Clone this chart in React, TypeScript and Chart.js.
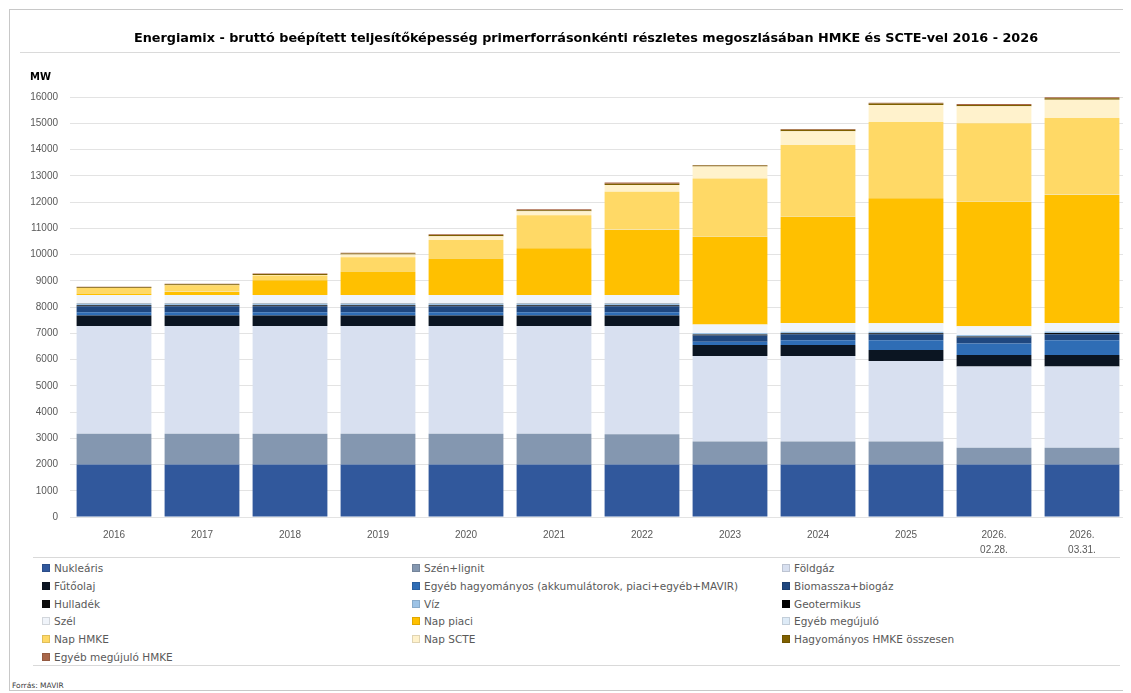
import { useEffect, useRef } from "react";
import { Chart, registerables } from "chart.js";

Chart.register(...registerables);

const chartTitle =
  "Energiamix - bruttó beépített teljesítőképesség primerforrásonkénti részletes megoszlásában HMKE és SCTE-vel 2016 - 2026";
const unitLabel = "MW";
const sourceNote = "Forrás: MAVIR";

const categories: (string | string[])[] = [
  "2016", "2017", "2018", "2019", "2020", "2021", "2022", "2023", "2024", "2025",
  ["2026.", "02.28."], ["2026.", "03.31."],
];

const yTicks = { min: 0, max: 16000, step: 1000 };

// series values (MW), bottom of the stack first
const nuklearis = [2000, 2000, 2000, 2000, 2000, 2000, 2000, 2000, 2000, 2000, 2000, 2000];
const szenLignit = [1170, 1170, 1170, 1170, 1170, 1170, 1150, 880, 880, 880, 640, 640];
const foldgaz = [4110, 4110, 4110, 4110, 4110, 4110, 4130, 3250, 3250, 3060, 3090, 3090];
const futoolaj = [400, 400, 400, 400, 400, 400, 400, 420, 420, 420, 445, 445];
const egyebHagyomanyos = [120, 120, 120, 120, 120, 120, 120, 130, 180, 370, 430, 560];
const biomassza = [230, 230, 230, 230, 230, 230, 230, 230, 230, 230, 230, 230];
const hulladek = [40, 40, 40, 40, 40, 40, 40, 40, 40, 40, 40, 40];
const viz = [57, 57, 57, 57, 57, 57, 57, 57, 57, 57, 57, 57];
const geotermikus = [3, 3, 3, 3, 3, 3, 3, 3, 3, 3, 3, 3];
const szel = [330, 330, 330, 330, 330, 330, 330, 320, 330, 320, 330, 330];
const napPiaci = [50, 110, 560, 890, 1390, 1780, 2470, 3350, 4050, 4760, 4745, 4875];
const egyebMegujulo = [10, 10, 10, 10, 10, 10, 10, 10, 10, 10, 10, 10];
const napHMKE = [200, 250, 170, 540, 690, 1250, 1450, 2210, 2720, 2900, 2980, 2920];
const napSCTE = [0, 0, 20, 100, 150, 150, 260, 450, 530, 650, 650, 700];
const hagyomanyosHMKE = [30, 35, 35, 40, 40, 40, 50, 40, 50, 50, 50, 55];
const egyebMegujuloHMKE = [20, 25, 25, 30, 30, 30, 40, 20, 30, 30, 30, 35];

const seriesNames = [
  "Nukleáris", "Szén+lignit", "Földgáz",
  "Fűtőolaj", "Egyéb hagyományos (akkumulátorok, piaci+egyéb+MAVIR)", "Biomassza+biogáz",
  "Hulladék", "Víz", "Geotermikus",
  "Szél", "Nap piaci", "Egyéb megújuló",
  "Nap HMKE", "Nap SCTE", "Hagyományos HMKE összesen",
  "Egyéb megújuló HMKE",
];
const seriesValues = [
  nuklearis, szenLignit, foldgaz,
  futoolaj, egyebHagyomanyos, biomassza,
  hulladek, viz, geotermikus,
  szel, napPiaci, egyebMegujulo,
  napHMKE, napSCTE, hagyomanyosHMKE,
  egyebMegujuloHMKE,
];
const seriesColors = [
  "#31589C", "#8497B0", "#D8E0F0",
  "#0B1522", "#2F6DB5", "#1F477F",
  "#0D0D0D", "#9DC3E6", "#000000",
  "#F0F4FA", "#FFC000", "#DEEBF7",
  "#FFD966", "#FFF2CC", "#7F6000",
  "#A9674A",
];

const FONT_TEXT = "'DejaVu Sans', sans-serif";
const FONT_TICK = "'Liberation Sans', Arial, sans-serif";

export default function App() {
  const ref = useRef<HTMLCanvasElement>(null);

  useEffect(() => {
    if (!ref.current) return;
    const chart = new Chart(ref.current, {
      type: "bar",
      data: {
        labels: categories,
        datasets: seriesNames.map((name, i) => ({
          label: name,
          data: seriesValues[i],
          backgroundColor: seriesColors[i],
          borderWidth: 0,
          stack: "s",
          categoryPercentage: 1,
          barPercentage: 0.85,
        })),
      },
      options: {
        responsive: false,
        animation: false,
        devicePixelRatio: 1,
        layout: { padding: { left: 0, right: 2, top: 89, bottom: 0 } },
        plugins: {
          legend: { display: false },
          tooltip: { enabled: false },
          title: { display: false },
        },
        scales: {
          x: {
            stacked: true,
            grid: { display: false, drawTicks: false },
            border: { display: false },
            ticks: {
              color: "#595959",
              font: { family: FONT_TICK, size: 10, lineHeight: 1.5 },
              padding: 10.5,
              maxRotation: 0,
              autoSkip: false,
            },
            afterFit: (s: any) => {
              s.height = 43;
            },
          },
          y: {
            stacked: true,
            min: yTicks.min,
            max: yTicks.max,
            grid: { color: "#E3E3E3", drawTicks: false },
            border: { display: false },
            ticks: {
              stepSize: yTicks.step,
              color: "#595959",
              font: { family: FONT_TICK, size: 10 },
              padding: 12,
              callback: (v: any) => String(v),
            },
            afterFit: (s: any) => {
              s.width = 62;
            },
          },
        },
      },
    });
    return () => chart.destroy();
  }, []);

  const rowTops = [0, 1, 2, 3, 4, 5].map((r) => 568 + r * 17.8 - 8 - 7);
  const colLefts = [42 - 8, 412 - 8, 782 - 8];

  return (
    <div style={{ position: "relative", width: 1115, height: 685, fontFamily: FONT_TEXT }}>
      <div
        style={{
          position: "absolute", left: 1, top: 1, width: 1119, height: 682,
          border: "1px solid #C8C8C8", boxSizing: "border-box",
        }}
      />
      <canvas ref={ref} width={1120} height={552} style={{ position: "absolute", left: 0, top: 0 }} />
      <div
        style={{
          position: "absolute", left: 40, width: 1076, top: 22, lineHeight: "16px",
          textAlign: "center", fontSize: 12.8, fontWeight: "bold", color: "#000",
          whiteSpace: "nowrap",
        }}
      >
        {chartTitle}
      </div>
      <div style={{ position: "absolute", left: 12, top: 44, width: 1100, height: 1, background: "#DADADA" }} />
      <div
        style={{
          position: "absolute", left: 22, top: 62, fontSize: 10, fontWeight: "bold",
          color: "#000", lineHeight: "14px",
        }}
      >
        {unitLabel}
      </div>
      <div style={{ position: "absolute", left: 25, top: 549, width: 1087, height: 1, background: "#D9D9D9" }} />
      <div style={{ position: "absolute", left: 25, top: 657, width: 1087, height: 1, background: "#D9D9D9" }} />
      {seriesNames.map((name, i) => {
        const r = Math.floor(i / 3);
        const c = i % 3;
        return (
          <div
            key={name}
            style={{
              position: "absolute", left: colLefts[c], top: rowTops[r], height: 14,
              lineHeight: "14px", fontSize: 10.5, color: "#595959", whiteSpace: "nowrap",
              display: "flex", alignItems: "center",
            }}
          >
            <span
              style={{
                display: "inline-block", width: 6, height: 6, marginRight: 4,
                background: seriesColors[i], border: "1px solid rgba(0,0,0,0.12)",
              }}
            />
            {name}
          </div>
        );
      })}
      <div style={{ position: "absolute", left: 4, top: 673, fontSize: 7.5, color: "#404040" }}>{sourceNote}</div>
    </div>
  );
}
